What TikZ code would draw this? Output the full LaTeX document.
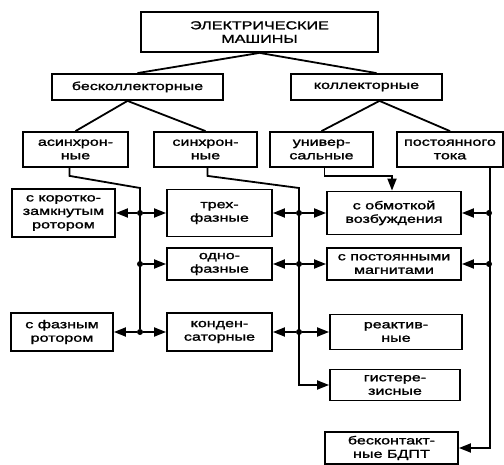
\documentclass[tikz,border=0pt]{standalone}
\usepackage{fontspec}
\setmainfont[FakeStretch=1.4,FakeBold=1.6]{Liberation Sans}
\usetikzlibrary{arrows.meta}

\begin{document}
\begin{tikzpicture}[x=1pt,y=-1pt]
    % Node styles
    \tikzset{
      box/.style={draw, line width=1.8pt, align=center, inner sep=0pt,
        font=\fontsize{11.5}{13.5}\selectfont},
      link/.style={line width=1.8pt},
      arr/.style={link, -{Triangle[length=12pt,width=9pt]}},
      junction/.style={circle, fill=black, inner sep=0pt, minimum size=6pt}
    }
    \useasboundingbox (0,0) rectangle (504,465);

    % --- Level 0: root ---
    \node[box, minimum width=237pt, minimum height=40pt] (machines) at (259.5,32) {ЭЛЕКТРИЧЕСКИЕ\\МАШИНЫ};

    % --- Level 1: two families ---
    \node[box, minimum width=171pt, minimum height=26pt] (brushless) at (137.5,87) {бесколлекторные};
    \node[box, minimum width=151pt, minimum height=26pt] (commutator) at (366.5,87) {коллекторные};

    \draw[link] (machines.south) -- (brushless.north);
    \draw[link] (machines.south) -- ([xshift=10pt]commutator.north);

    % --- Level 2: four kinds ---
    \node[box, minimum width=105pt, minimum height=35pt] (async) at (75.5,149.5) {асинхрон-\\ные};
    \node[box, minimum width=103pt, minimum height=35pt] (sync) at (205.5,149.5) {синхрон-\\ные};
    \node[box, minimum width=103pt, minimum height=35pt] (universal) at (321.5,149.5) {универ-\\сальные};
    \node[box, minimum width=106pt, minimum height=35pt] (dc) at (450,149.5) {постоянного\\тока};

    \draw[link] ([xshift=-10pt]brushless.south) -- (async.north);
    \draw[link] ([xshift=-10pt]brushless.south) -- (sync.north);
    \draw[link] ([xshift=13pt]commutator.south) -- (universal.north);
    \draw[link] ([xshift=13pt]commutator.south) -- (dc.north);

    % --- Level 3: left column ---
    \node[box, minimum width=103pt, minimum height=48pt] (squirrel) at (63.5,213) {с коротко-\\замкнутым\\ротором};
    \node[box, minimum width=102pt, minimum height=38pt] (wound) at (62,332) {с фазным\\ротором};

    % --- Level 3: middle column ---
    \node[box, minimum width=105pt, minimum height=47pt] (three) at (219.5,213) {трех-\\фазные};
    \node[box, minimum width=105pt, minimum height=32pt] (single) at (219.5,264) {одно-\\фазные};
    \node[box, minimum width=105pt, minimum height=38pt] (capacitor) at (219.5,332) {конден-\\саторные};

    % --- Level 3: right column ---
    \node[box, minimum width=134pt, minimum height=43pt] (field) at (394,213) {с обмоткой\\возбуждения};
    \node[box, minimum width=134pt, minimum height=32pt] (pm) at (394,264) {с постоянными\\магнитами};
    \node[box, minimum width=132pt, minimum height=35pt] (reluct) at (396,332) {реактив-\\ные};
    \node[box, minimum width=130pt, minimum height=31pt] (hyster) at (395,385) {гистере-\\зисные};
    \node[box, minimum width=133pt, minimum height=32pt] (bldc) at (391.5,448) {бесконтакт-\\ные БДПТ};

    % --- Bus from asynchronous ---
    \coordinate (lb_top) at (140,188);
    \node[junction] (lb1) at (140,213) {};
    \node[junction] (lb2) at (140,264) {};
    \node[junction] (lb3) at (140,332) {};
    \draw[link] ([xshift=-6pt]async.south) -- ++(0,8) -- (lb_top) -- (lb3);
    \draw[arr] (lb1) -- (squirrel.east);
    \draw[arr] (lb1) -- (three.west);
    \draw[arr] (lb2) -- (single.west);
    \draw[arr] (lb3) -- (wound.east);
    \draw[arr] (lb3) -- (capacitor.west);

    % --- Bus from synchronous ---
    \coordinate (mb_top) at (299,188);
    \node[junction] (mb1) at (299,213) {};
    \node[junction] (mb2) at (299,264) {};
    \node[junction] (mb3) at (299,332) {};
    \draw[arr] ([xshift=2pt]sync.south) -- ++(0,8) -- (mb_top) |- (hyster.west);
    \draw[arr] (mb1) -- (three.east);
    \draw[arr] (mb1) -- (field.west);
    \draw[arr] (mb2) -- (single.east);
    \draw[arr] (mb2) -- (pm.west);
    \draw[arr] (mb3) -- (capacitor.east);
    \draw[arr] (mb3) -- (reluct.west);

    % --- Universal to field winding ---
    \draw[arr] ([xshift=3pt]universal.south) -- ++(0,8) -| ([xshift=-2pt]field.north);

    % --- Bus from DC ---
    \node[junction] (rb1) at (489,213) {};
    \node[junction] (rb2) at (489,264) {};
    \draw[arr] ([xshift=-14pt]dc.south east) |- (bldc.east);
    \draw[arr] (rb1) -- (field.east);
    \draw[arr] (rb2) -- (pm.east);

  \end{tikzpicture}
\end{document}
